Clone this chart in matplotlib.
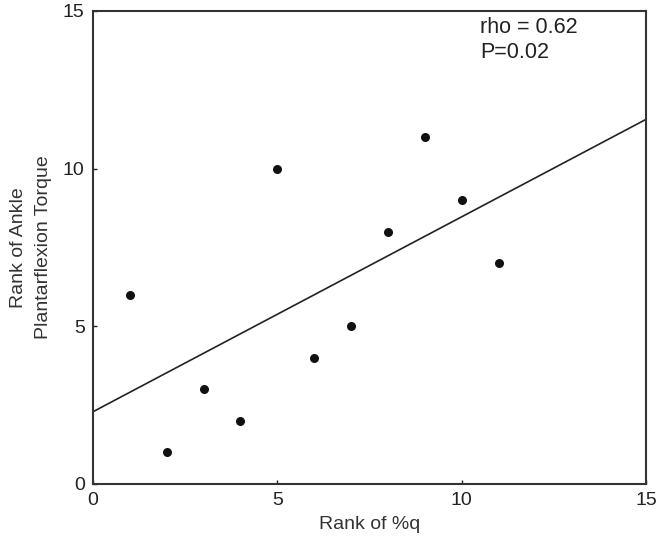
import matplotlib.pyplot as plt
import numpy as np

plt.rcParams['font.family'] = ['Liberation Sans', 'DejaVu Sans']

# ranks
rank_q = [1, 2, 3, 4, 5, 6, 7, 8, 9, 10, 11]
rank_torque = [6, 1, 3, 2, 10, 4, 5, 8, 11, 9, 7]
ticks = [0, 5, 10, 15]

fig = plt.figure(figsize=(6.58, 5.47), dpi=100)
ax = fig.add_axes([0.1413, 0.1152, 0.8405, 0.8647])

ax.scatter(rank_q, rank_torque, s=30, c='#111111', zorder=3)

# least squares fit line across the full x range
slope, intercept = np.polyfit(rank_q, rank_torque, 1)
xs = np.array([0, 15])
ax.plot(xs, slope*xs + intercept, c='#222222', lw=1.2)

ax.set(xlim=(0, 15), ylim=(0, 15))
ax.set_xticks(ticks)
ax.set_yticks(ticks)
ax.tick_params(direction='in', length=3, width=1, labelsize=14, colors='#222222', pad=6)
for s in ax.spines.values():
    s.set_linewidth(1.5)
    s.set_color('#333333')

ax.set_xlabel('Rank of %q', fontsize=14, color='#333333', labelpad=5)
ax.set_ylabel('Rank of Ankle\nPlantarflexion Torque', fontsize=14, color='#333333',
              labelpad=8, linespacing=1.6)

ax.text(10.5, 14.8, 'rho = 0.62\nP=0.02', fontsize=15.5, color='#222222', va='top', linespacing=1.2)

fig.savefig('out.png', dpi=100)
